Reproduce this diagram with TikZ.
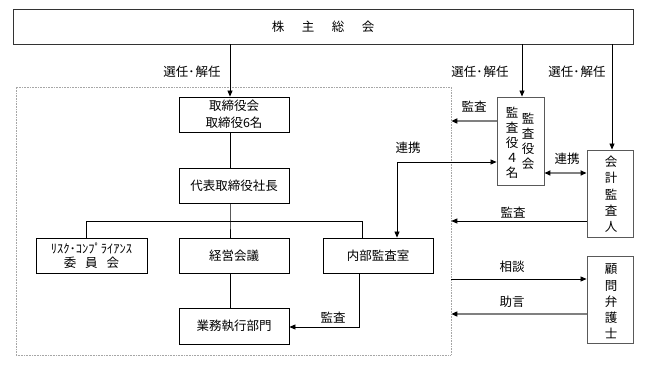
\documentclass[tikz,border=0pt]{standalone}
\usepackage{fontspec}
\setmainfont{Noto Sans CJK JP}
\usetikzlibrary{arrows.meta}
\begin{document}
\begin{tikzpicture}[x=1pt,y=-1pt,
  tip/.tip={Triangle[length=6pt,width=5pt,color=black]},
  box/.style={draw=black, line width=0.8pt, minimum width=110pt, minimum height=35pt, inner sep=0pt, font=\fontsize{12.5}{15}\selectfont},
  gbox/.style={draw=black!65, line width=0.9pt, inner sep=0pt},
  vtext/.style={inner sep=0pt, align=center, font=\fontsize{12.5}{16.3}\selectfont},
  lbl/.style={inner sep=0pt, font=\fontsize{12.5}{15}\selectfont},
  ln/.style={draw=black, line width=0.8pt},
  arr/.style={ln, -tip},
  garr/.style={draw=black!50, line width=1.6pt, -tip},
  region/.style={draw=black!35, line width=0.6pt, dash pattern=on 0.8pt off 0.8pt, inner sep=0pt}
]
\useasboundingbox (0,0) rectangle (645,371);

% region
\node[region, minimum width=435pt, minimum height=268pt] (region) at (233.5,221) {};

% top box
\node[gbox, draw=black!80, minimum width=620pt, minimum height=35pt, font=\fontsize{12.5}{15}\selectfont] (soukai) at (323,26.5)
  {株\hspace{17.5pt}主\hspace{17.5pt}総\hspace{17.5pt}会};

% main boxes
\node[box, align=center, font=\fontsize{12.5}{17}\selectfont] (torishimari) at (234,114.5) {取締役会\\取締役6名};
\node[box] (daihyo) at (234,185.5) {代表取締役社長};
\node[box, minimum width=111pt, align=center, font=\fontsize{12.5}{14}\selectfont] (risk) at (91.5,255.5)
  {ﾘｽｸ･ｺﾝﾌﾟﾗｲｱﾝｽ\\委\hspace{9pt}員\hspace{9pt}会};
\node[box] (keiei) at (234,255.5) {経営会議};
\node[box] (naibu) at (378,255.5) {内部監査室};
\node[box, minimum height=36pt] (gyomu) at (234,326) {業務執行部門};

% right boxes
\node[gbox, minimum width=47pt, minimum height=88pt] (kansayaku) at (520.5,141) {};
\node[vtext, font=\fontsize{12.5}{15}\selectfont] (kr) at (528,141.5) {監\\査\\役\\会};
\node[vtext, font=\fontsize{12.5}{15}\selectfont] (kl) at (512,143) {監\\査\\役\\４\\名};
\node[gbox, minimum width=46pt, minimum height=87pt] (kaikei) at (610,193.5) {};
\node[vtext] (kaikeit) at (611,194.5) {会\\計\\監\\査\\人};
\node[gbox, minimum width=46pt, minimum height=87pt] (komon) at (610,299.5) {};
\node[vtext] (komont) at (611,301.5) {顧\\問\\弁\\護\\士};

% helper coordinates
\coordinate (spine) at (230,0);
\coordinate (bus) at (230,221);
\coordinate (busL) at (86,221);
\coordinate (busR) at (362,221);
\coordinate (xk) at (522,0);
\coordinate (xa) at (612,0);
\coordinate (nb) at (359,327);
\coordinate (rk) at (397,162);
\coordinate (y121) at (0,121);
\coordinate (y173) at (0,173);
\coordinate (y221) at (0,221);
\coordinate (y279) at (0,279);
\coordinate (y314) at (0,314);

% connectors from shareholders meeting
\draw[arr] (soukai.south -| spine) -- (torishimari.north -| spine);
\draw[arr] (soukai.south -| xk) -- (kansayaku.north -| xk);
\draw[arr] (soukai.south -| xa) -- (kaikei.north -| xa);

% internal tree
\draw[ln] (torishimari.south -| spine) -- (daihyo.north -| spine);
\draw[ln] (daihyo.south -| spine) -- (bus) -- (keiei.north -| spine);
\draw[ln] (risk.north -| busL) -- (busL) -- (busR) -- (naibu.north -| busR);
\draw[ln] (keiei.south -| spine) -- (gyomu.north -| spine);
\draw[arr] (naibu.south -| nb) -- (nb) -- (gyomu.east |- nb);

% coordination internal audit <-> auditors
\draw[ln, tip-tip] (naibu.north -| rk) -- (rk) -- (kansayaku.west |- rk);

% audit arrows
\draw[garr] (kansayaku.west |- y121) -- (region.east |- y121);
\draw[draw=black!50, line width=1.6pt, tip-tip] (kansayaku.east |- y173) -- (kaikei.west |- y173);
\draw[arr] (kaikei.west |- y221) -- (region.east |- y221);
\draw[arr] (region.east |- y279) -- (komon.west |- y279);
\draw[garr] (komon.west |- y314) -- (region.east |- y314);

% labels
\node[lbl] (l1) at (192,72) {選任･\hspace{1pt}解任};
\node[lbl] (l2) at (480,72) {選任･\hspace{1pt}解任};
\node[lbl] (l3) at (577,72) {選任･\hspace{1pt}解任};
\node[lbl] (l4) at (474,107) {監査};
\node[lbl] (l5) at (408,148) {連携};
\node[lbl] (l6) at (567,159) {連携};
\node[lbl] (l7) at (513,213) {監査};
\node[lbl] (l8) at (512,267) {相談};
\node[lbl] (l9) at (512,302) {助言};
\node[lbl] (l10) at (333,318) {監査};
\end{tikzpicture}
\end{document}
